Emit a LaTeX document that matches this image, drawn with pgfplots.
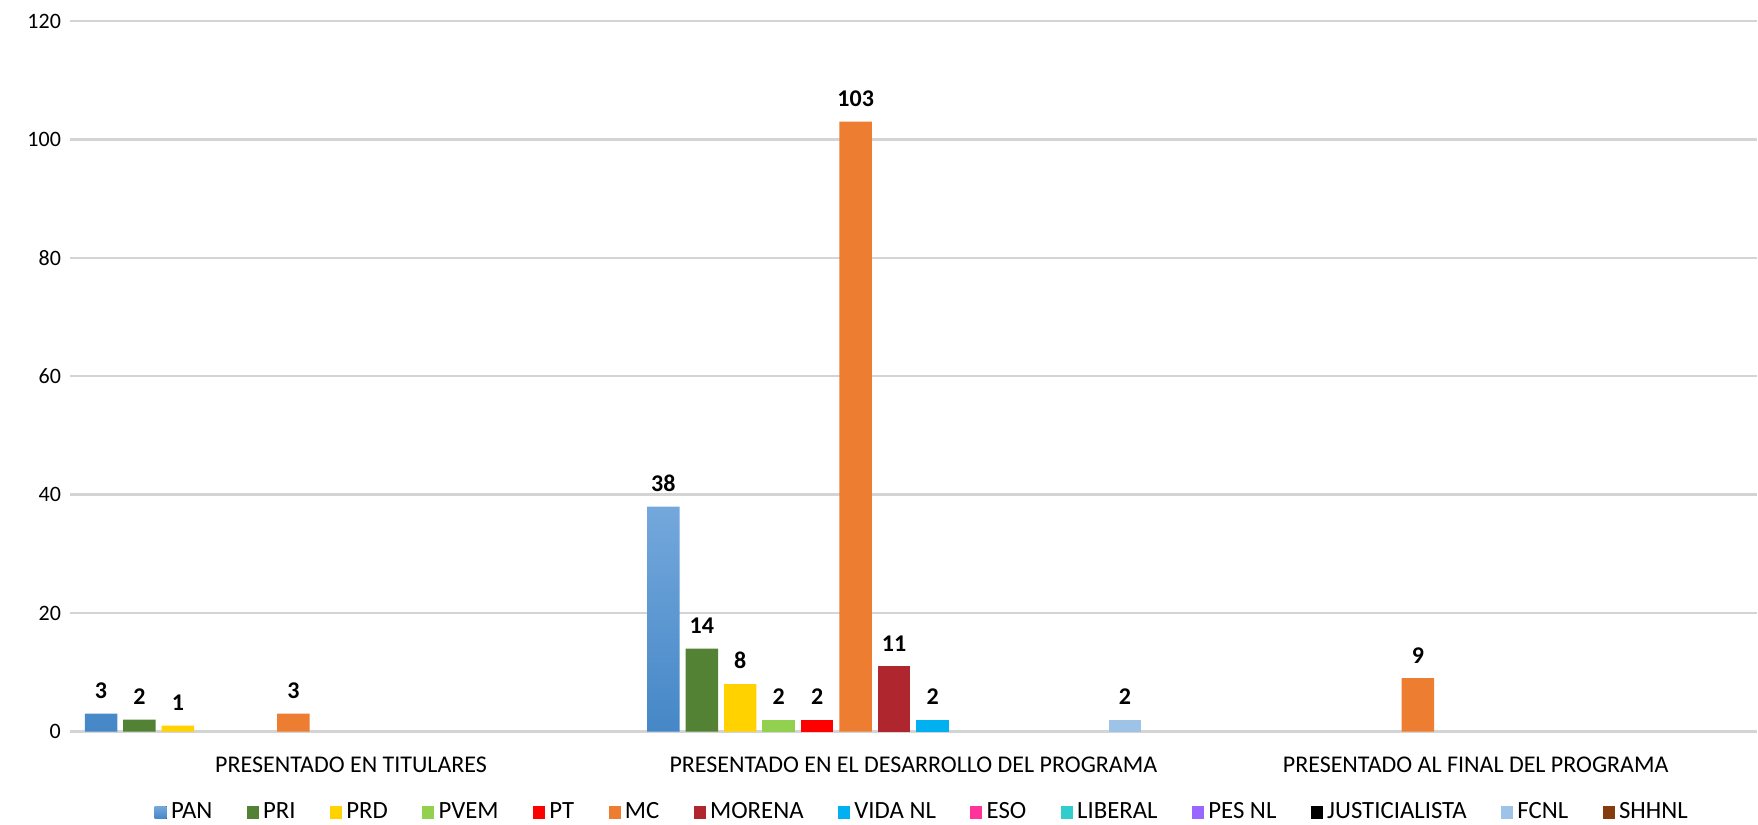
\documentclass[border=0pt]{standalone}
\usepackage{fontspec}
\setmainfont{Carlito}
\usepackage{pgfplots}
\pgfplotsset{compat=1.18}
\definecolor{cPAN}{HTML}{5B9BD5}
\definecolor{cPANt}{HTML}{74A8DC}
\definecolor{cPANb}{HTML}{4587C7}
\definecolor{cPRI}{HTML}{548235}
\definecolor{cPRD}{HTML}{FFD200}
\definecolor{cPVEM}{HTML}{92D050}
\definecolor{cPT}{HTML}{FF0000}
\definecolor{cMC}{HTML}{ED7D31}
\definecolor{cMOR}{HTML}{B0262E}
\definecolor{cVIDA}{HTML}{00B0F0}
\definecolor{cESO}{HTML}{FF3399}
\definecolor{cLIB}{HTML}{33CCCC}
\definecolor{cPES}{HTML}{9966FF}
\definecolor{cJUS}{HTML}{000000}
\definecolor{cFCNL}{HTML}{9DC3E6}
\definecolor{cSHH}{HTML}{843C0C}
\pgfplotsset{
  nz/.style={y filter/.expression={y==0 ? nan : y}},
  empty/.style={fill=#1, fill opacity=0, legend image post style={fill opacity=1}},
}
\begin{document}
\begin{tikzpicture}
\begin{axis}[
  width=844pt, height=355.5pt, scale only axis,
  xmin=-0.5, xmax=2.5, ymin=0, ymax=120,
  ybar=3pt, bar width=16.25pt,
  ytick={0,20,...,120},
  xtick={0,1,2},
  xticklabels={PRESENTADO EN TITULARES, PRESENTADO EN EL DESARROLLO DEL PROGRAMA, PRESENTADO AL FINAL DEL PROGRAMA},
  ymajorgrids, grid style={black!17, line width=1.2pt},
  axis line style={draw=none},
  major tick length=0pt,
  unbounded coords=discard,
  /pgf/number format/assume math mode=true,
  yticklabel style={font=\fontsize{11}{13}\selectfont, xshift=-1pt},
  xticklabel style={font=\fontsize{12}{14}\selectfont, yshift=-9pt},
  nodes near coords={\pgfmathfloatifflags{\pgfplotspointmeta}{0}{}{\pgfmathprintnumber{\pgfplotspointmeta}}},
  every node near coord/.append style={font=\fontsize{12}{14}\bfseries, text=black, text opacity=1, yshift=4pt},
  legend columns=14,
  legend style={at={(0.5,0)}, anchor=center, xshift=5pt, yshift=-40.5pt, draw=none, inner sep=0pt, font=\fontsize{12.4}{14}\selectfont,
    nodes={inner xsep=2.2pt, inner ysep=0pt},
    /tikz/every even column/.append style={column sep=15pt}},
  legend image code/.code={\fill[#1] (0pt,-3.2pt) rectangle (6pt,3.2pt);},
  every axis plot/.append style={draw=none},
]
\addplot[nz, top color=cPANt, bottom color=cPANb] coordinates {(0,3) (1,38) (2,0)};
\addplot[nz, fill=cPRI] coordinates {(0,2) (1,14) (2,0)};
\addplot[nz, fill=cPRD] coordinates {(0,1) (1,8) (2,0)};
\addplot[nz, fill=cPVEM] coordinates {(0,0) (1,2) (2,0)};
\addplot[nz, fill=cPT] coordinates {(0,0) (1,2) (2,0)};
\addplot[nz, fill=cMC] coordinates {(0,3) (1,103) (2,9)};
\addplot[nz, fill=cMOR] coordinates {(0,0) (1,11) (2,0)};
\addplot[nz, fill=cVIDA] coordinates {(0,0) (1,2) (2,0)};
\addplot[empty=cESO] coordinates {(0,0) (1,0) (2,0)};
\addplot[empty=cLIB] coordinates {(0,0) (1,0) (2,0)};
\addplot[empty=cPES] coordinates {(0,0) (1,0) (2,0)};
\addplot[empty=cJUS] coordinates {(0,0) (1,0) (2,0)};
\addplot[nz, fill=cFCNL] coordinates {(0,0) (1,2) (2,0)};
\addplot[empty=cSHH] coordinates {(0,0) (1,0) (2,0)};
\legend{PAN, PRI, PRD, PVEM, PT, MC, MORENA, VIDA NL, ESO, LIBERAL, PES NL, JUSTICIALISTA, FCNL, SHHNL}
\end{axis}
\path (current axis.south west) ++(-35pt,-46.5pt) coordinate (bl);
\path (current axis.north east) ++(0pt,10.5pt) coordinate (tr);
\path (bl) rectangle (tr);
\end{tikzpicture}
\end{document}
